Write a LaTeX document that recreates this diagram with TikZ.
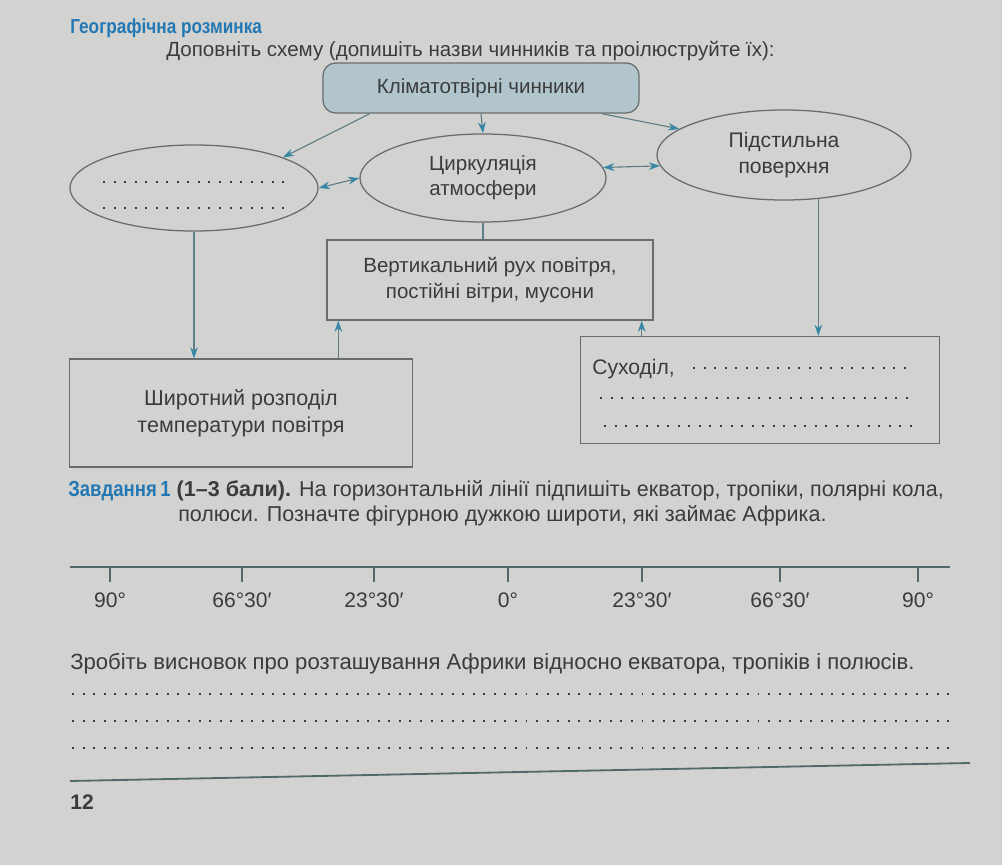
\documentclass[tikz,border=0pt]{standalone}
\usepackage{fontspec}
\setmainfont{Liberation Sans}
\newfontfamily\condfont{Liberation Sans}[FakeStretch=0.85]
\usetikzlibrary{arrows.meta}
\usetikzlibrary{shapes.geometric}
\definecolor{page}{RGB}{210,211,208}
\definecolor{ink}{RGB}{58,60,60}
\definecolor{frame}{RGB}{105,108,108}
\definecolor{boxfill}{RGB}{178,197,205}
\definecolor{arrowline}{RGB}{95,125,135}
\definecolor{arrowtip}{RGB}{55,135,165}
\definecolor{headblue}{RGB}{35,120,180}
\definecolor{axisline}{RGB}{80,105,105}
\newcommand*{\txtsize}{\fontsize{14.6}{18}\selectfont}
\newcommand*{\lowsize}{\fontsize{15.3}{19}\selectfont}
\newcommand*{\headfont}{\condfont\bfseries\fontsize{14.4}{16}\selectfont}
\newcommand*{\taskfont}{\condfont\bfseries\fontsize{15.5}{18}\selectfont}

\begin{document}
\begin{tikzpicture}[x=0.025cm, y=-0.025cm, font=\txtsize, text=ink,
    box/.style={draw=frame, line width=0.9pt, align=center, inner sep=0pt},
    oval/.style={ellipse, draw=frame, line width=0.9pt, align=center, inner sep=0pt},
    line/.style={anchor=base west, inner sep=0pt},
    link/.style={draw=arrowline, line width=0.8pt, -{Stealth[length=8pt,width=5.5pt,color=arrowtip]}},
    twoway/.style={draw=arrowline, line width=0.8pt, {Stealth[length=8pt,width=5.5pt,color=arrowtip]}-{Stealth[length=8pt,width=5.5pt,color=arrowtip]}},
    dots/.style={draw=ink, line width=1.4pt, dash pattern=on 1.4pt off 6.1pt},
    tick/.style={draw=axisline, line width=0.9pt}]
    \fill [page] (0,0) rectangle (1002,865);
    \useasboundingbox (0,0) rectangle (1002,865);

    \node [line, font=\headfont, text=headblue] (rozminka) at (70,34) {Географічна розминка};
    \node [line] (zavd0) at (166,57) {Доповніть схему (допишіть назви чинників та проілюструйте їх):};

    % schema
    \node [box, fill=boxfill, rounded corners=9pt, minimum width=7.9cm, minimum height=1.25cm] (chynnyky) at (481,88) {Кліматотвірні чинники};
    \node [oval, minimum width=6.2cm, minimum height=2.15cm] (dopys) at (194,188) {};
    \node [oval, minimum width=6.15cm, minimum height=2.2cm] (tsyrk) at (483,178) {Циркуляція\\атмосфери};
    \node [oval, minimum width=6.35cm, minimum height=2.25cm, font=\fontsize{15}{18.5}\selectfont] (pidst) at (784,155) {Підстильна\\поверхня};
    \node [box, minimum width=8.15cm, minimum height=2cm] (vert) at (490,280) {Вертикальний рух повітря,\\постійні вітри, мусони};
    \node [box, minimum width=8.575cm, minimum height=2.7cm, font=\lowsize] (shyr) at (241,413) {Широтний розподіл\\температури повітря};
    \node [box, minimum width=8.975cm, minimum height=2.675cm] (sukh) at (760,390) {};
    \node [line, font=\fontsize{15}{18}\selectfont] (sukhtxt) at (592,375) {Суходіл,};

    \draw [dots] (103,182) -- (287,182);
    \draw [dots] (103,208) -- (287,208);
    \draw [dots] (693,368) -- (913,368);
    \draw [dots] (600,398) -- (916,398);
    \draw [dots] (604,426) -- (918,426);

    \draw [link] (chynnyky.193) -- (dopys.19);
    \draw [link] (chynnyky.south) -- (tsyrk.north);
    \draw [link] (chynnyky.-12) -- (pidst.166);
    \draw [twoway] (dopys.east) -- (tsyrk.west);
    \draw [twoway] (tsyrk.5) -- (pidst.185);
    \draw [draw=arrowline, line width=0.8pt] (tsyrk.south) -- (tsyrk.south |- vert.north);
    \draw [link] (dopys.south) -- (dopys.south |- shyr.north);
    \draw [link] (vert.195.4 |- shyr.north) -- (vert.195.4);
    \draw [link] (vert.-15.2 |- sukh.north) -- (vert.-15.2);
    \draw [link] (pidst.-52) -- (pidst.-52 |- sukh.north);

    % task 1
    \node [line, font=\lowsize] (zavd1) at (68,497) {{\taskfont\color{headblue}Завдання\,1} \textbf{(1--3 бали).} На горизонтальній лінії підпишіть екватор, тропіки, полярні кола,};
    \node [line, font=\lowsize] (zavd1b) at (178,522) {полюси. Позначте фігурною дужкою широти, які займає Африка.};

    \draw [tick] (70,567) -- (950,567);
    \foreach \x/\lab [count=\i] in {110/90°, 242/66°30′, 374/23°30′, 508/0°, 642/23°30′, 780/66°30′, 918/90°} {
        \draw [tick] (\x,567) -- (\x,582);
        \node [anchor=north, font=\fontsize{15}{18}\selectfont] (shyrota\i) at (\x,588) {\lab};
    }

    \node [line, font=\fontsize{15.7}{19}\selectfont] (vysnovok) at (70,670) {Зробіть висновок про розташування Африки відносно екватора, тропіків і полюсів.};
    \foreach \y in {694,721,748} \draw [dots] (72,\y) -- (950,\y);
    \draw [draw=axisline, line width=1.3pt] (70,781) -- (970,763);
    \node [line, font=\bfseries\fontsize{15}{18}\selectfont] (storinka) at (70,809) {12};
\end{tikzpicture}
\end{document}
